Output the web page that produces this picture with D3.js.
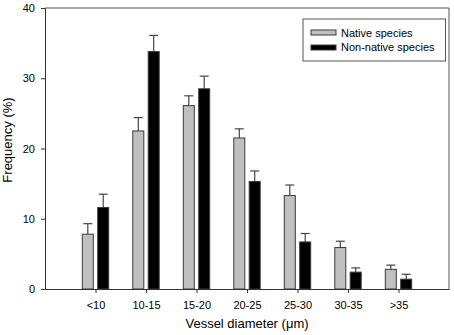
<!DOCTYPE html>
<html>
<head>
<meta charset="utf-8">
<script src="https://cdn.jsdelivr.net/npm/d3@7"></script>
<style>
  body { margin: 0; background: #fff; }
  svg { display: block; font-family: "Liberation Sans", Arial, sans-serif; }
</style>
</head>
<body>
<svg id="chart"></svg>
<script>
// Chart data
const categories = ["<10", "10-15", "15-20", "20-25", "25-30", "30-35", ">35"];
const nativeMean = [7.8, 22.5, 26.1, 21.5, 13.3, 5.9, 2.8];
const nativeErr = [1.5, 1.9, 1.4, 1.3, 1.5, 0.9, 0.6];
const nonNativeMean = [11.6, 33.8, 28.5, 15.3, 6.7, 2.4, 1.4];
const nonNativeErr = [1.9, 2.3, 1.8, 1.5, 1.2, 0.6, 0.7];
const yTicks = [0, 10, 20, 30, 40];

const seriesNames = ["Native species", "Non-native species"];
const seriesFill = ["#c0c0c0", "#000000"];

const width = 454;
const height = 335;
const margin = { top: 8, right: 5, bottom: 46, left: 45 };

const svg = d3.select("#chart")
  .attr("width", width)
  .attr("height", height);

const x = d3.scalePoint()
  .domain(categories)
  .range([margin.left, width - margin.right])
  .padding(1);

const y = d3.scaleLinear()
  .domain([0, 40])
  .range([height - margin.bottom, margin.top]);

const barWidth = 11;
const barGap = 4.4;

const axisColor = "#333";

// frame (top and right)
svg.append("path")
  .attr("d", "M" + margin.left + "," + y(40) + "H" + (width - margin.right) + "V" + y(0))
  .attr("fill", "none")
  .attr("stroke", "#555")
  .attr("stroke-width", 1);

// bars + error bars
const series = [
  { mean: nativeMean, err: nativeErr, fill: seriesFill[0], off: -barGap / 2 - barWidth },
  { mean: nonNativeMean, err: nonNativeErr, fill: seriesFill[1], off: barGap / 2 }
];

series.forEach(function (s) {
  const g = svg.append("g");
  const rows = categories.map((c, i) => ({ c: c, v: s.mean[i], e: s.err[i] }));

  // error bars drawn first so the bar covers the stem
  g.selectAll("line.stem")
    .data(rows)
    .enter()
    .append("line")
    .attr("x1", d => x(d.c) + s.off + barWidth / 2)
    .attr("x2", d => x(d.c) + s.off + barWidth / 2)
    .attr("y1", d => y(d.v))
    .attr("y2", d => y(d.v + d.e))
    .attr("stroke", "#444")
    .attr("stroke-width", 1.2);

  g.selectAll("line.cap")
    .data(rows)
    .enter()
    .append("line")
    .attr("x1", d => x(d.c) + s.off + barWidth / 2 - 4.5)
    .attr("x2", d => x(d.c) + s.off + barWidth / 2 + 4.5)
    .attr("y1", d => y(d.v + d.e))
    .attr("y2", d => y(d.v + d.e))
    .attr("stroke", "#444")
    .attr("stroke-width", 1.2);

  g.selectAll("rect")
    .data(rows)
    .enter()
    .append("rect")
    .attr("x", d => x(d.c) + s.off)
    .attr("y", d => y(d.v))
    .attr("width", barWidth)
    .attr("height", d => y(0) - y(d.v))
    .attr("fill", s.fill)
    .attr("stroke", "#3a3a3a")
    .attr("stroke-width", 1);
});

// y axis
const yAxis = svg.append("g")
  .attr("transform", "translate(" + margin.left + ",0)")
  .call(d3.axisLeft(y).tickValues(yTicks).tickSize(4).tickPadding(6));
yAxis.select(".domain").attr("stroke", axisColor);
yAxis.selectAll(".tick line").attr("stroke", axisColor);
yAxis.selectAll(".tick text")
  .attr("fill", "#000")
  .style("font-size", "11px")
  .style("font-family", "Liberation Sans, Arial, sans-serif");

// x axis
const xAxis = svg.append("g")
  .attr("transform", "translate(0," + y(0) + ")")
  .call(d3.axisBottom(x).tickSizeInner(4).tickSizeOuter(0).tickPadding(8));
xAxis.select(".domain").attr("stroke", axisColor);
xAxis.selectAll(".tick line").attr("stroke", axisColor);
xAxis.selectAll(".tick text")
  .attr("fill", "#000")
  .style("font-size", "11px")
  .style("font-family", "Liberation Sans, Arial, sans-serif");

// axis titles
svg.append("text")
  .attr("x", (margin.left + width - margin.right) / 2)
  .attr("y", 328)
  .attr("text-anchor", "middle")
  .style("font-size", "13px")
  .text("Vessel diameter (\u03bcm)");

svg.append("text")
  .attr("transform", "translate(12," + 140 + ") rotate(-90)")
  .attr("text-anchor", "middle")
  .style("font-size", "13px")
  .text("Frequency (%)");

// legend
const legend = svg.append("g").attr("transform", "translate(303,19)");
legend.append("rect")
  .attr("width", 142.5)
  .attr("height", 42)
  .attr("fill", "#fff")
  .attr("stroke", "#555")
  .attr("stroke-width", 1);

seriesNames.forEach(function (name, i) {
  legend.append("rect")
    .attr("x", 8)
    .attr("y", 11 + i * 15)
    .attr("width", 25)
    .attr("height", 5)
    .attr("fill", seriesFill[i])
    .attr("stroke", "#3a3a3a")
    .attr("stroke-width", 1);
  legend.append("text")
    .attr("x", 38)
    .attr("y", 17.5 + i * 14.5)
    .style("font-size", "11px")
    .text(name);
});
</script>
</body>
</html>
